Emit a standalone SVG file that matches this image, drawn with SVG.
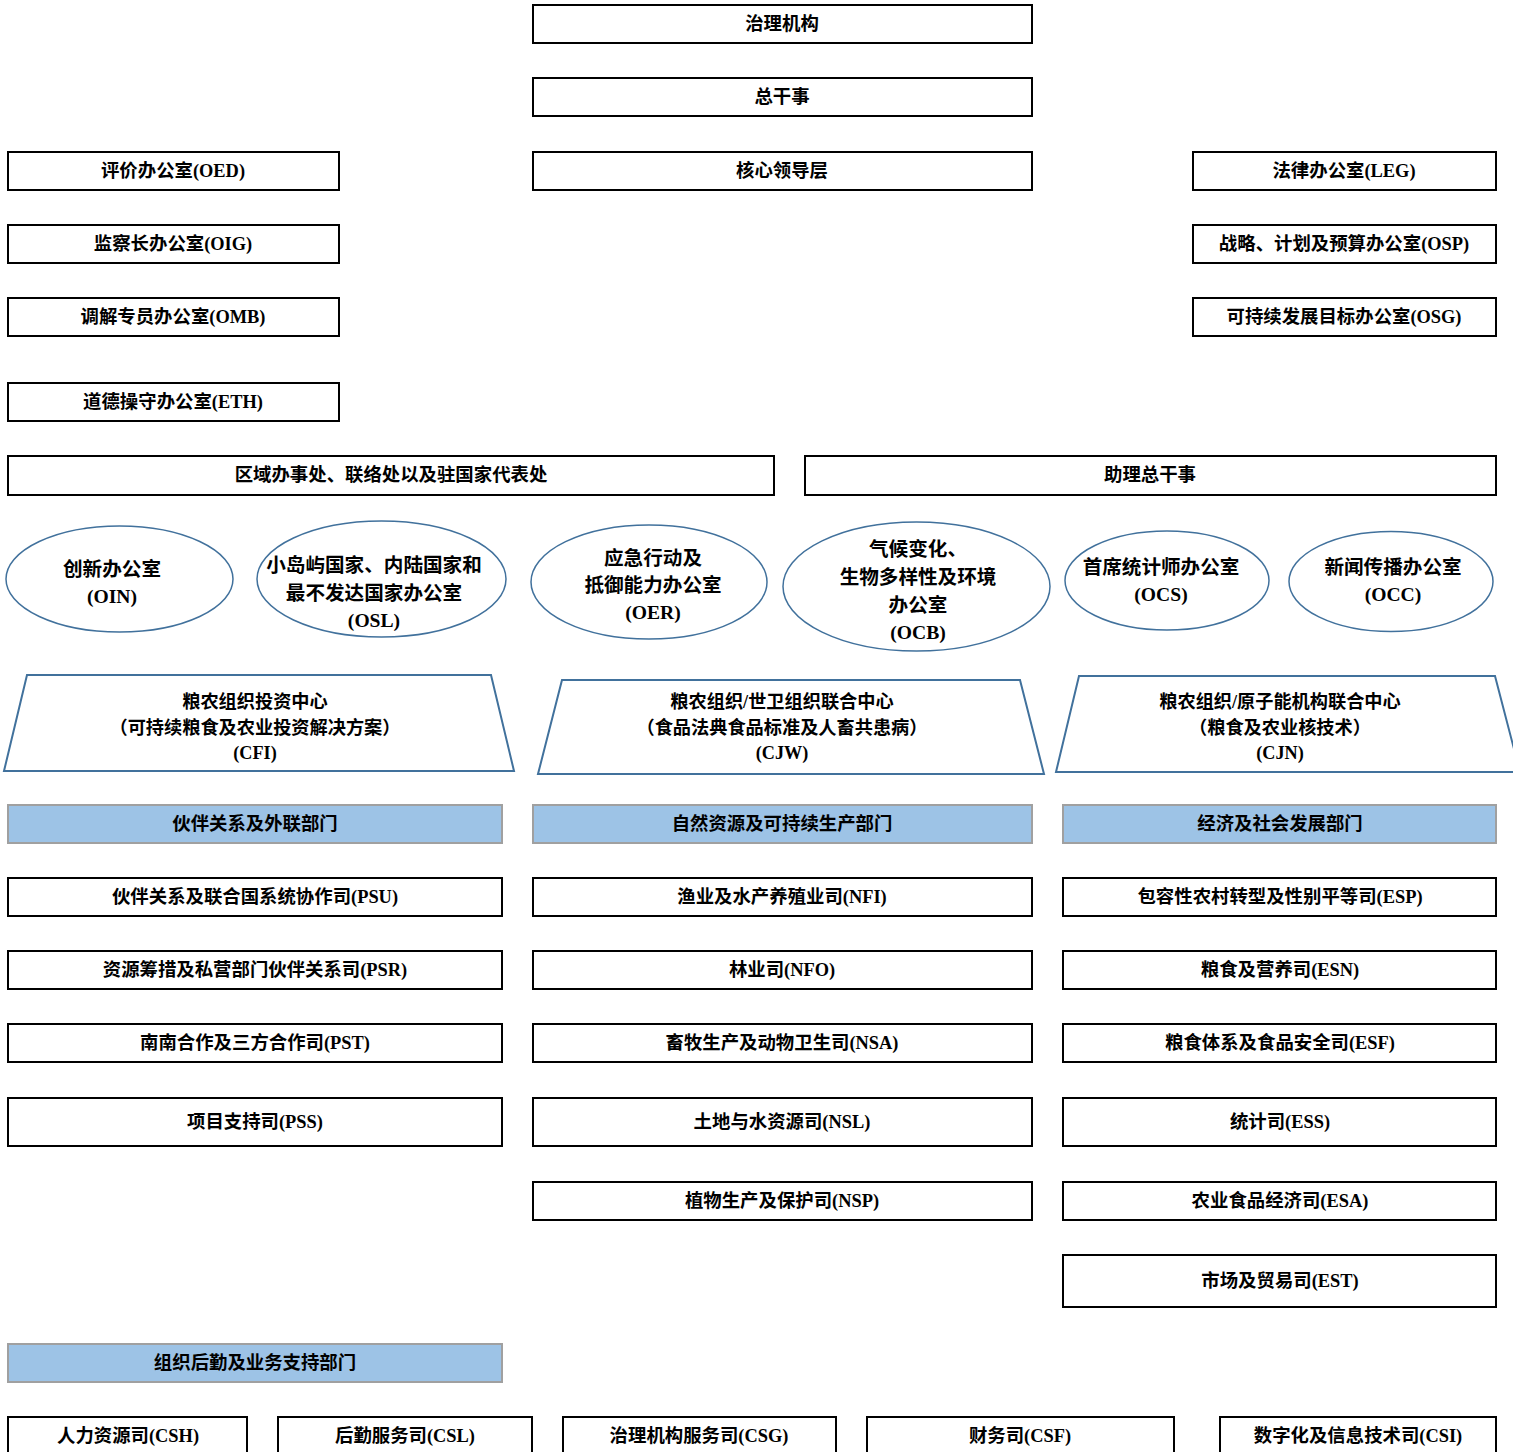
<svg xmlns="http://www.w3.org/2000/svg" width="1513" height="1452" viewBox="0 0 1513 1452">
<style>
text{font-family:"Liberation Serif","Noto Sans CJK SC",serif;font-weight:bold;fill:#000;text-anchor:middle}
.t18{font-size:18.4px}
.t20{font-size:19.6px}
.t17{font-size:18.2px}
.box{fill:#fff;stroke:#000;stroke-width:2}
.hdr{fill:#9dc3e6;stroke:#a0a0a0;stroke-width:2}
.ell{fill:#fff;stroke:#41719c;stroke-width:1.5}
.trap{fill:#fff;stroke:#41719c;stroke-width:2}
</style>
<rect width="1513" height="1452" fill="#fff"/>
<g id="connectors"></g>

<g id="gov"><rect class="box" x="533" y="5" width="499" height="38"/><text class="t18" x="782" y="30">治理机构</text></g>
<g id="dg"><rect class="box" x="533" y="78" width="499" height="38"/><text class="t18" x="782" y="103">总干事</text></g>
<g id="core"><rect class="box" x="533" y="152" width="499" height="38"/><text class="t18" x="782" y="177">核心领导层</text></g>

<g id="oed"><rect class="box" x="8" y="152" width="331" height="38"/><text class="t18" x="173" y="177">评价办公室(OED)</text></g>
<g id="oig"><rect class="box" x="8" y="225" width="331" height="38"/><text class="t18" x="173" y="250">监察长办公室(OIG)</text></g>
<g id="omb"><rect class="box" x="8" y="298" width="331" height="38"/><text class="t18" x="173" y="323">调解专员办公室(OMB)</text></g>
<g id="eth"><rect class="box" x="8" y="383" width="331" height="38"/><text class="t18" x="173" y="408">道德操守办公室(ETH)</text></g>

<g id="leg"><rect class="box" x="1193" y="152" width="303" height="38"/><text class="t18" x="1344" y="177">法律办公室(LEG)</text></g>
<g id="osp"><rect class="box" x="1193" y="225" width="303" height="38"/><text class="t18" x="1344" y="250">战略、计划及预算办公室(OSP)</text></g>
<g id="osg"><rect class="box" x="1193" y="298" width="303" height="38"/><text class="t18" x="1344" y="323">可持续发展目标办公室(OSG)</text></g>

<g id="regional"><rect class="box" x="8" y="456" width="766" height="39"/><text class="t18" x="391" y="481">区域办事处、联络处以及驻国家代表处</text></g>
<g id="adg"><rect class="box" x="805" y="456" width="691" height="39"/><text class="t18" x="1150" y="481">助理总干事</text></g>

<g id="oin"><ellipse class="ell" cx="119.5" cy="579" rx="113.5" ry="53"/><text class="t20" x="112" y="576">创新办公室</text><text class="t20" x="112" y="603">(OIN)</text></g>
<g id="osl"><ellipse class="ell" cx="381.5" cy="579" rx="124.5" ry="58"/><text class="t20" x="374" y="572">小岛屿国家、内陆国家和</text><text class="t20" x="374" y="600">最不发达国家办公室</text><text class="t20" x="374" y="627">(OSL)</text></g>
<g id="oer"><ellipse class="ell" cx="649" cy="582" rx="118" ry="57"/><text class="t20" x="653" y="565">应急行动及</text><text class="t20" x="653" y="592">抵御能力办公室</text><text class="t20" x="653" y="619">(OER)</text></g>
<g id="ocb"><ellipse class="ell" cx="916.5" cy="586.5" rx="133.5" ry="64.5"/><text class="t20" x="918" y="556">气候变化、</text><text class="t20" x="918" y="584">生物多样性及环境</text><text class="t20" x="918" y="612">办公室</text><text class="t20" x="918" y="639">(OCB)</text></g>
<g id="ocs"><ellipse class="ell" cx="1167" cy="580.5" rx="102" ry="49.5"/><text class="t20" x="1161" y="574">首席统计师办公室</text><text class="t20" x="1161" y="601">(OCS)</text></g>
<g id="occ"><ellipse class="ell" cx="1391" cy="581.5" rx="102" ry="50"/><text class="t20" x="1393" y="574">新闻传播办公室</text><text class="t20" x="1393" y="601">(OCC)</text></g>

<g id="cfi"><polygon class="trap" points="27,675 491,675 514,771 4,771"/><text class="t17" x="255" y="708">粮农组织投资中心</text><text class="t17" x="255" y="734">（可持续粮食及农业投资解决方案）</text><text class="t17" x="255" y="759">(CFI)</text></g>
<g id="cjw"><polygon class="trap" points="562,680 1020,680 1044,774 538,774"/><text class="t17" x="782" y="708">粮农组织/世卫组织联合中心</text><text class="t17" x="782" y="734">（食品法典食品标准及人畜共患病）</text><text class="t17" x="782" y="759">(CJW)</text></g>
<g id="cjn"><polygon class="trap" points="1079,676 1495,676 1520,772 1056,772"/><text class="t17" x="1280" y="708">粮农组织/原子能机构联合中心</text><text class="t17" x="1280" y="734">（粮食及农业核技术）</text><text class="t17" x="1280" y="759">(CJN)</text></g>

<g id="dep-p"><rect class="hdr" x="8" y="805" width="494" height="38"/><text class="t18" x="255" y="830">伙伴关系及外联部门</text></g>
<g id="dep-n"><rect class="hdr" x="533" y="805" width="499" height="38"/><text class="t18" x="782" y="830">自然资源及可持续生产部门</text></g>
<g id="dep-e"><rect class="hdr" x="1063" y="805" width="433" height="38"/><text class="t18" x="1280" y="830">经济及社会发展部门</text></g>

<g id="psu"><rect class="box" x="8" y="878" width="494" height="38"/><text class="t18" x="255" y="903">伙伴关系及联合国系统协作司(PSU)</text></g>
<g id="psr"><rect class="box" x="8" y="951" width="494" height="38"/><text class="t18" x="255" y="976">资源筹措及私营部门伙伴关系司(PSR)</text></g>
<g id="pst"><rect class="box" x="8" y="1024" width="494" height="38"/><text class="t18" x="255" y="1049">南南合作及三方合作司(PST)</text></g>
<g id="pss"><rect class="box" x="8" y="1098" width="494" height="48"/><text class="t18" x="255" y="1128">项目支持司(PSS)</text></g>

<g id="nfi"><rect class="box" x="533" y="878" width="499" height="38"/><text class="t18" x="782" y="903">渔业及水产养殖业司(NFI)</text></g>
<g id="nfo"><rect class="box" x="533" y="951" width="499" height="38"/><text class="t18" x="782" y="976">林业司(NFO)</text></g>
<g id="nsa"><rect class="box" x="533" y="1024" width="499" height="38"/><text class="t18" x="782" y="1049">畜牧生产及动物卫生司(NSA)</text></g>
<g id="nsl"><rect class="box" x="533" y="1098" width="499" height="48"/><text class="t18" x="782" y="1128">土地与水资源司(NSL)</text></g>
<g id="nsp"><rect class="box" x="533" y="1182" width="499" height="38"/><text class="t18" x="782" y="1207">植物生产及保护司(NSP)</text></g>

<g id="esp"><rect class="box" x="1063" y="878" width="433" height="38"/><text class="t18" x="1280" y="903">包容性农村转型及性别平等司(ESP)</text></g>
<g id="esn"><rect class="box" x="1063" y="951" width="433" height="38"/><text class="t18" x="1280" y="976">粮食及营养司(ESN)</text></g>
<g id="esf"><rect class="box" x="1063" y="1024" width="433" height="38"/><text class="t18" x="1280" y="1049">粮食体系及食品安全司(ESF)</text></g>
<g id="ess"><rect class="box" x="1063" y="1098" width="433" height="48"/><text class="t18" x="1280" y="1128">统计司(ESS)</text></g>
<g id="esa"><rect class="box" x="1063" y="1182" width="433" height="38"/><text class="t18" x="1280" y="1207">农业食品经济司(ESA)</text></g>
<g id="est"><rect class="box" x="1063" y="1255" width="433" height="52"/><text class="t18" x="1280" y="1287">市场及贸易司(EST)</text></g>

<g id="dep-c"><rect class="hdr" x="8" y="1344" width="494" height="38"/><text class="t18" x="255" y="1369">组织后勤及业务支持部门</text></g>

<g id="csh"><rect class="box" x="8" y="1417" width="239" height="60"/><text class="t18" x="128" y="1442">人力资源司(CSH)</text></g>
<g id="csl"><rect class="box" x="278" y="1417" width="254" height="60"/><text class="t18" x="405" y="1442">后勤服务司(CSL)</text></g>
<g id="csg"><rect class="box" x="563" y="1417" width="273" height="60"/><text class="t18" x="699" y="1442">治理机构服务司(CSG)</text></g>
<g id="csf"><rect class="box" x="867" y="1417" width="307" height="60"/><text class="t18" x="1020" y="1442">财务司(CSF)</text></g>
<g id="csi"><rect class="box" x="1220" y="1417" width="276" height="60"/><text class="t18" x="1358" y="1442">数字化及信息技术司(CSI)</text></g>
</svg>
